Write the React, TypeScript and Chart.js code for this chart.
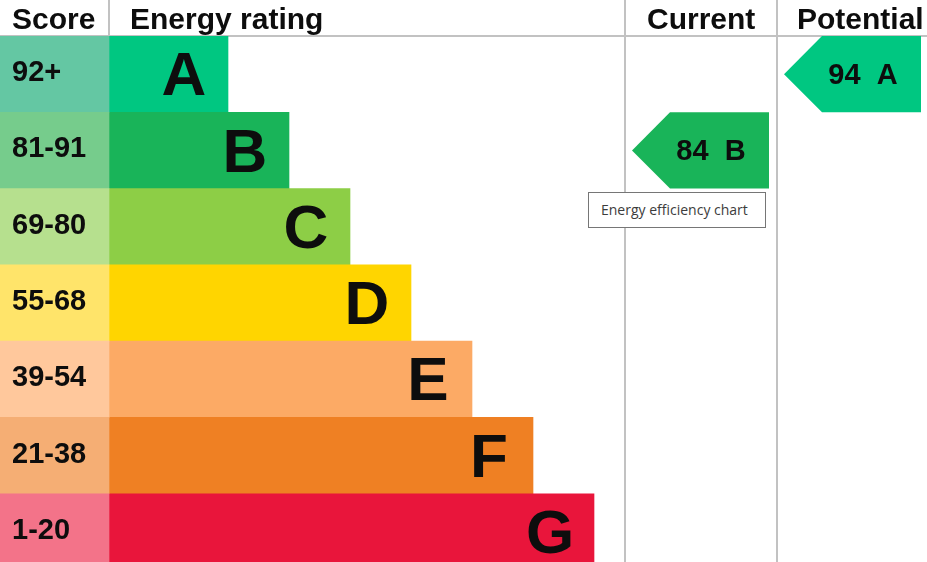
import React, { useEffect, useRef } from 'react';
import { Chart, registerables } from 'chart.js';

Chart.register(...registerables);

// ---- data ----
const bands = ['A', 'B', 'C', 'D', 'E', 'F', 'G'];
const scoreRanges = ['92+', '81-91', '69-80', '55-68', '39-54', '21-38', '1-20'];
const barLengths = [119, 180, 241, 302, 363, 424, 485];
const bandColors = ['#00c781', '#19b459', '#8dce46', '#ffd500', '#fcaa65', '#ef8023', '#e9153b'];
const scoreColors = ['#64c7a3', '#76cc8c', '#b6e08e', '#ffe46a', '#ffc89c', '#f5ae74', '#f37389'];
const headers = ['Score', 'Energy rating', 'Current', 'Potential'];
const currentScore = 84;
const currentBand = 'B';
const potentialScore = 94;
const potentialBand = 'A';
const tooltipText = 'Energy efficiency chart';

// ---- layout ----
const W = 927;
const H = 570;
const HEADER_H = 36;
const SCORE_W = 109;
const COL_CURRENT = 625;
const COL_POTENTIAL = 777;
const FONT = '"Liberation Sans", Arial, Helvetica, sans-serif';

const decorPlugin = {
  id: 'epcDecor',
  beforeDatasetsDraw(chart: any) {
    const ctx = chart.ctx;
    ctx.save();
    ctx.fillStyle = '#c2c2c2';
    ctx.fillRect(0, HEADER_H - 1, W, 2);
    ctx.fillRect(SCORE_W - 1, 0, 2, HEADER_H);
    ctx.fillRect(COL_CURRENT - 1, 0, 2, H);
    ctx.fillRect(COL_POTENTIAL - 1, 0, 2, H);
    ctx.restore();
  },
  afterDatasetsDraw(chart: any) {
    const ctx = chart.ctx;
    const ratingMeta = chart.getDatasetMeta(1);
    ctx.save();
    ctx.fillStyle = '#0d0d0d';
    ctx.textBaseline = 'middle';
    // score range labels
    ctx.font = `bold 29px ${FONT}`;
    ctx.textAlign = 'left';
    ratingMeta.data.forEach((bar: any, i: number) => {
      ctx.fillText(scoreRanges[i], 12, bar.y - 1);
    });
    // band letters
    ctx.font = `bold 62px ${FONT}`;
    ctx.textAlign = 'center';
    ratingMeta.data.forEach((bar: any, i: number) => {
      ctx.fillText(bands[i], bar.x - 44, bar.y + 4);
    });
    // arrows
    const drawArrow = (col: number, score: number, band: string) => {
      const idx = bands.indexOf(band);
      const bar: any = ratingMeta.data[idx];
      const top = bar.y - bar.height / 2;
      const bottom = bar.y + bar.height / 2;
      const tip = col + 7;
      const shoulder = tip + 38;
      const right = col + 144;
      ctx.fillStyle = bandColors[idx];
      ctx.beginPath();
      ctx.moveTo(tip, bar.y);
      ctx.lineTo(shoulder, top);
      ctx.lineTo(right, top);
      ctx.lineTo(right, bottom);
      ctx.lineTo(shoulder, bottom);
      ctx.closePath();
      ctx.fill();
      ctx.fillStyle = '#0d0d0d';
      ctx.font = `bold 29px ${FONT}`;
      ctx.textAlign = 'center';
      ctx.fillText(`${score}  ${band}`, tip + 79, bar.y + 2);
    };
    drawArrow(COL_CURRENT, currentScore, currentBand);
    drawArrow(COL_POTENTIAL, potentialScore, potentialBand);
    // headers
    ctx.fillStyle = '#0d0d0d';
    ctx.font = `bold 30px ${FONT}`;
    ctx.textAlign = 'left';
    ctx.textBaseline = 'alphabetic';
    const headerX = [12, SCORE_W + 21, COL_CURRENT + 22, COL_POTENTIAL + 20];
    headers.forEach((h, i) => ctx.fillText(h, headerX[i], 29));
    ctx.restore();
  },
};

export default function App() {
  const canvasRef = useRef<HTMLCanvasElement | null>(null);

  useEffect(() => {
    document.body.style.margin = '0';
    document.documentElement.style.overflow = 'hidden';
    document.body.style.overflow = 'hidden';
    const canvas = canvasRef.current;
    if (!canvas) return;
    const chart = new Chart(canvas, {
      type: 'bar',
      data: {
        labels: bands,
        datasets: [
          {
            label: 'Score',
            data: bands.map(() => [0, SCORE_W]) as any,
            backgroundColor: scoreColors,
            borderWidth: 0,
            barPercentage: 1,
            categoryPercentage: 1,
            grouped: false,
          } as any,
          {
            label: 'Energy rating',
            data: barLengths.map((l) => [SCORE_W, SCORE_W + l]) as any,
            backgroundColor: bandColors,
            borderWidth: 0,
            barPercentage: 1,
            categoryPercentage: 1,
            grouped: false,
          } as any,
        ],
      },
      options: {
        indexAxis: 'y',
        responsive: false,
        animation: false,
        devicePixelRatio: 1,
        layout: { padding: { top: HEADER_H, left: 0, right: 0, bottom: 0 } },
        plugins: {
          legend: { display: false },
          tooltip: { enabled: false },
          title: { display: false },
        },
        scales: {
          x: { type: 'linear', min: 0, max: W, display: false },
          y: { type: 'category', display: false, offset: true },
        },
        events: [],
      },
      plugins: [decorPlugin],
    });
    return () => chart.destroy();
  }, []);

  return (
    <div style={{ position: 'relative', width: W, height: H, background: '#fff' }}>
      <canvas ref={canvasRef} width={W} height={H} style={{ display: 'block', width: W, height: H }} />
      <div
        style={{
          position: 'absolute',
          left: 588,
          top: 192,
          width: 178,
          height: 36,
          boxSizing: 'border-box',
          border: '1px solid #767676',
          background: '#fff',
          color: '#3c3c3c',
          font: '14px "Open Sans", "Noto Sans", sans-serif',
          lineHeight: '34px',
          paddingLeft: 12,
          whiteSpace: 'nowrap',
        }}
      >
        {tooltipText}
      </div>
    </div>
  );
}
